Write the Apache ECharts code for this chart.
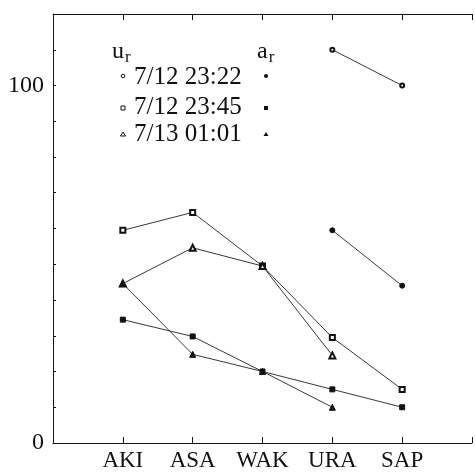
<!DOCTYPE html>
<html>
<head>
<meta charset="utf-8">
<script src="https://cdn.jsdelivr.net/npm/echarts@6/dist/echarts.min.js"></script>
<style>
  html, body { margin: 0; padding: 0; background: #fff; }
  #chart { width: 475px; height: 472px; }
</style>
</head>
<body>
<div id="chart"></div>
<script>
// stations along the x axis
var categories = ['AKI', 'ASA', 'WAK', 'URA', 'SAP'];
var yTickLabels = [0, 100];

// u_r (open symbols) and a_r (filled symbols) for three times
var times = ['7/12 23:22', '7/12 23:45', '7/13 01:01'];
var u1 = [null, null, null, 110, 100];
var a1 = [null, null, null, 59.5, 44];
var u2 = [59.5, 64.5, 49.5, 29.5, 15];
var a2 = [34.5, 29.8, 20, 15, 10];
var u3 = [44.6, 54.6, 49.5, 24.5, null];
var a3 = [44.6, 24.8, 20, 10, null];

var chart = echarts.init(document.getElementById('chart'));

function toPairs(vals) {
    var out = [];
    for (var i = 0; i < vals.length; i++) {
        if (vals[i] != null) out.push([i, vals[i]]);
    }
    return out;
}

function line(name, vals, symbol, size) {
    return {
        name: name,
        type: 'line',
        data: toPairs(vals),
        symbol: symbol,
        symbolSize: size,
        showSymbol: true,
        color: '#111',
        itemStyle: { color: '#111', borderColor: '#111', borderWidth: 1 },
        lineStyle: { color: '#222', width: 0.9 },
        animation: false,
        z: 3
    };
}

var serif = '"Liberation Serif", "DejaVu Serif", serif';

var xCommon = {
    type: 'value',
    min: -1,
    max: 5,
    interval: 1,
    splitLine: { show: false },
    axisLine: { show: true, onZero: false, lineStyle: { color: '#111', width: 1 } }
};

var option = {
    backgroundColor: '#fff',
    grid: { left: 53, right: -7, top: 14, bottom: 27 },
    xAxis: [
        Object.assign({}, xCommon, {
            position: 'bottom',
            axisTick: { show: true, inside: true, length: 6, lineStyle: { color: '#111' } },
            axisLabel: {
                margin: 6,
                color: '#111',
                fontFamily: serif,
                fontSize: 23,
                formatter: function (v) {
                    return (v >= 0 && v < categories.length) ? categories[v] : '';
                }
            }
        }),
        Object.assign({}, xCommon, {
            position: 'top',
            axisTick: { show: true, inside: true, length: 6, lineStyle: { color: '#111' } },
            axisLabel: { show: false }
        })
    ],
    yAxis: {
        type: 'value',
        min: 0,
        max: 120,
        interval: 10,
        splitLine: { show: false },
        axisLine: { show: true, onZero: false, lineStyle: { color: '#111', width: 1 } },
        axisTick: { show: true, inside: true, length: 3, lineStyle: { color: '#111' } },
        axisLabel: {
            margin: 9,
            color: '#111',
            fontFamily: serif,
            fontSize: 24,
            formatter: function (v) {
                return yTickLabels.indexOf(v) >= 0 ? String(v) : '';
            }
        }
    },
    graphic: [
        {
            type: 'text', x: 112, y: 52,
            style: {
                text: '{b|u}{s|r}',
                verticalAlign: 'middle',
                rich: {
                    b: { fontFamily: serif, fontSize: 24, fill: '#111' },
                    s: { fontFamily: serif, fontSize: 17, fill: '#111', padding: [12, 0, 0, 1] }
                }
            }
        },
        {
            type: 'text', x: 257, y: 52,
            style: {
                text: '{b|a}{s|r}',
                verticalAlign: 'middle',
                rich: {
                    b: { fontFamily: serif, fontSize: 24, fill: '#111' },
                    s: { fontFamily: serif, fontSize: 17, fill: '#111', padding: [12, 0, 0, 1] }
                }
            }
        },
        { type: 'text', x: 134, y: 77, style: { text: times[0], fontFamily: serif, fontSize: 25, fill: '#111', verticalAlign: 'middle' } },
        { type: 'text', x: 134, y: 107, style: { text: times[1], fontFamily: serif, fontSize: 25, fill: '#111', verticalAlign: 'middle' } },
        { type: 'text', x: 134, y: 134, style: { text: times[2], fontFamily: serif, fontSize: 25, fill: '#111', verticalAlign: 'middle' } },
        { type: 'circle', shape: { cx: 123, cy: 76, r: 1.8 }, style: { fill: '#fff', stroke: '#111', lineWidth: 1 } },
        { type: 'circle', shape: { cx: 266, cy: 76, r: 2 }, style: { fill: '#111' } },
        { type: 'rect', shape: { x: 121, y: 106, width: 4, height: 4 }, style: { fill: '#fff', stroke: '#111', lineWidth: 1 } },
        { type: 'rect', shape: { x: 264, y: 106, width: 4, height: 4 }, style: { fill: '#111' } },
        { type: 'polygon', shape: { points: [[123, 132], [125.5, 136], [120.5, 136]] }, style: { fill: '#fff', stroke: '#111', lineWidth: 1 } },
        { type: 'polygon', shape: { points: [[266, 132], [268.5, 136], [263.5, 136]] }, style: { fill: '#111' } }
    ],
    series: [
        line('u1', u1, 'emptyCircle', 4),
        line('a1', a1, 'circle', 5),
        line('u2', u2, 'emptyRect', 5),
        line('a2', a2, 'rect', 5),
        line('u3', u3, 'emptyTriangle', 6),
        line('a3', a3, 'triangle', 6)
    ]
};

chart.setOption(option);
window.onresize = chart.resize;
</script>
</body>
</html>
